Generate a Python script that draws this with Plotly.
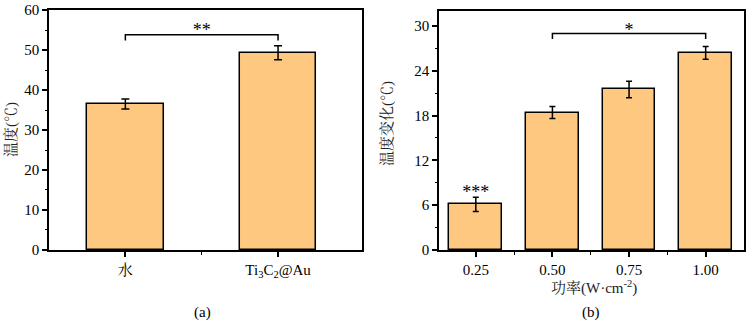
import plotly.graph_objects as go

# ---- data ----
a_categories = ["水", "Ti<sub>3</sub>C<sub>2</sub>@Au"]
a_values = [36.5, 49.3]
a_errors = [1.25, 1.75]
a_sig_pair = [0, 1]
a_sig_level = 53.8
a_sig_text = "**"

b_categories = ["0.25", "0.50", "0.75", "1.00"]
b_values = [6.1, 18.4, 21.5, 26.4]
b_errors = [0.95, 0.8, 1.1, 0.85]
b_sig_pair = [1, 3]
b_sig_level = 29.0
b_sig_text = "*"
b_star_bar = 0
b_star_text = "***"

FILL = "#FFC880"
FONT = "Liberation Serif, Times New Roman, Noto Serif CJK SC, Noto Sans CJK SC, serif"

fig = go.Figure()

a_x = list(range(len(a_categories)))
b_x = list(range(len(b_categories)))

fig.add_trace(go.Bar(
    x=a_x, y=a_values, width=0.5, marker=dict(color=FILL, line=dict(color="black", width=1.5)),
    error_y=dict(type="data", array=a_errors, color="black", thickness=1.5, width=4),
    xaxis="x", yaxis="y", showlegend=False))

fig.add_trace(go.Bar(
    x=b_x, y=b_values, width=0.69, marker=dict(color=FILL, line=dict(color="black", width=1.5)),
    error_y=dict(type="data", array=b_errors, color="black", thickness=1.5, width=3),
    xaxis="x2", yaxis="y2", showlegend=False))

# significance brackets
def bracket(pair, level, drop, xa, ya):
    x0, x1 = pair
    fig.add_trace(go.Scatter(
        x=[x0, x0, x1, x1], y=[level - drop, level, level, level - drop],
        mode="lines", line=dict(color="black", width=1.5),
        xaxis=xa, yaxis=ya, showlegend=False, hoverinfo="skip"))

bracket(a_sig_pair, a_sig_level, 1.4, "x", "y")
bracket(b_sig_pair, b_sig_level, 0.75, "x2", "y2")

STAR_FONT = dict(size=18, family=FONT, color="black")
# stars: text anchored just above the reference level (offsets in axis units)
fig.add_trace(go.Scatter(
    x=[sum(a_sig_pair) / 2], y=[a_sig_level - 1.5], mode="text", text=[a_sig_text],
    textposition="top center", textfont=STAR_FONT,
    xaxis="x", yaxis="y", showlegend=False, hoverinfo="skip"))
fig.add_trace(go.Scatter(
    x=[sum(b_sig_pair) / 2], y=[b_sig_level - 0.9], mode="text", text=[b_sig_text],
    textposition="top center", textfont=STAR_FONT,
    xaxis="x2", yaxis="y2", showlegend=False, hoverinfo="skip"))
fig.add_trace(go.Scatter(
    x=[b_star_bar], y=[b_values[b_star_bar] + b_errors[b_star_bar] - 0.7], mode="text",
    text=[b_star_text], textposition="top center", textfont=STAR_FONT,
    xaxis="x2", yaxis="y2", showlegend=False, hoverinfo="skip"))

axis_common = dict(showline=True, linecolor="black", linewidth=1.5, mirror=True,
                   ticks="outside", ticklen=5, tickwidth=1.5, tickcolor="black",
                   showgrid=False, zeroline=False, automargin=False,
                   tickfont=dict(family=FONT, size=15, color="black"))

fig.update_layout(
    width=746, height=321, margin=dict(l=0, r=0, t=0, b=0, pad=0, autoexpand=False),
    plot_bgcolor="white", paper_bgcolor="white",
    font=dict(family=FONT, size=15, color="black"),
    bargap=0,
    xaxis=dict(domain=[0.0657, 0.4853], range=[-0.5, 1.55], tickmode="array",
               tickvals=a_x, ticktext=a_categories,
               minor=dict(ticks="outside", ticklen=3, tickwidth=1.2, tickcolor="black",
                          tickvals=[0.5]),
               anchor="y", **axis_common),
    yaxis=dict(domain=[0.2212, 0.9688], range=[0, 60], dtick=10,
               minor=dict(ticks="outside", ticklen=2.5, tickwidth=1.2, tickcolor="black", dtick=5),
               anchor="x", **axis_common),
    xaxis2=dict(domain=[0.5885, 0.9973], range=[-0.48, 3.5], tickmode="array",
                tickvals=b_x, ticktext=b_categories,
                minor=dict(ticks="outside", ticklen=3, tickwidth=1.2, tickcolor="black",
                           tickvals=[0.5, 1.5, 2.5]),
                anchor="y2", **axis_common),
    yaxis2=dict(domain=[0.2212, 0.9657], range=[0, 32], dtick=6,
                minor=dict(ticks="outside", ticklen=2.5, tickwidth=1.2, tickcolor="black", dtick=3),
                anchor="x2", **axis_common),
)

W, H = 746, 321
def px_ann(text, x, y, angle=0, size=15, color="#222"):
    return dict(text=text, x=x / W, y=1 - y / H, xref="paper", yref="paper",
                xanchor="center", yanchor="middle", textangle=angle, showarrow=False,
                font=dict(size=size, family=FONT, color=color))

fig.update_layout(annotations=[
    px_ann("温度(℃)", 11, 130, -90),
    px_ann("温度变化(℃)", 387, 124, -90),
    px_ann("功率(W·cm<sup>-2</sup>)", 594, 287),
    px_ann("(a)", 202, 312, color="black"),
    px_ann("(b)", 591, 312, color="black"),
])

fig.write_html("out.html",
               config={"displayModeBar": False},
               post_script="document.body.style.margin='0';document.body.style.padding='0';document.body.style.overflow='hidden';")
